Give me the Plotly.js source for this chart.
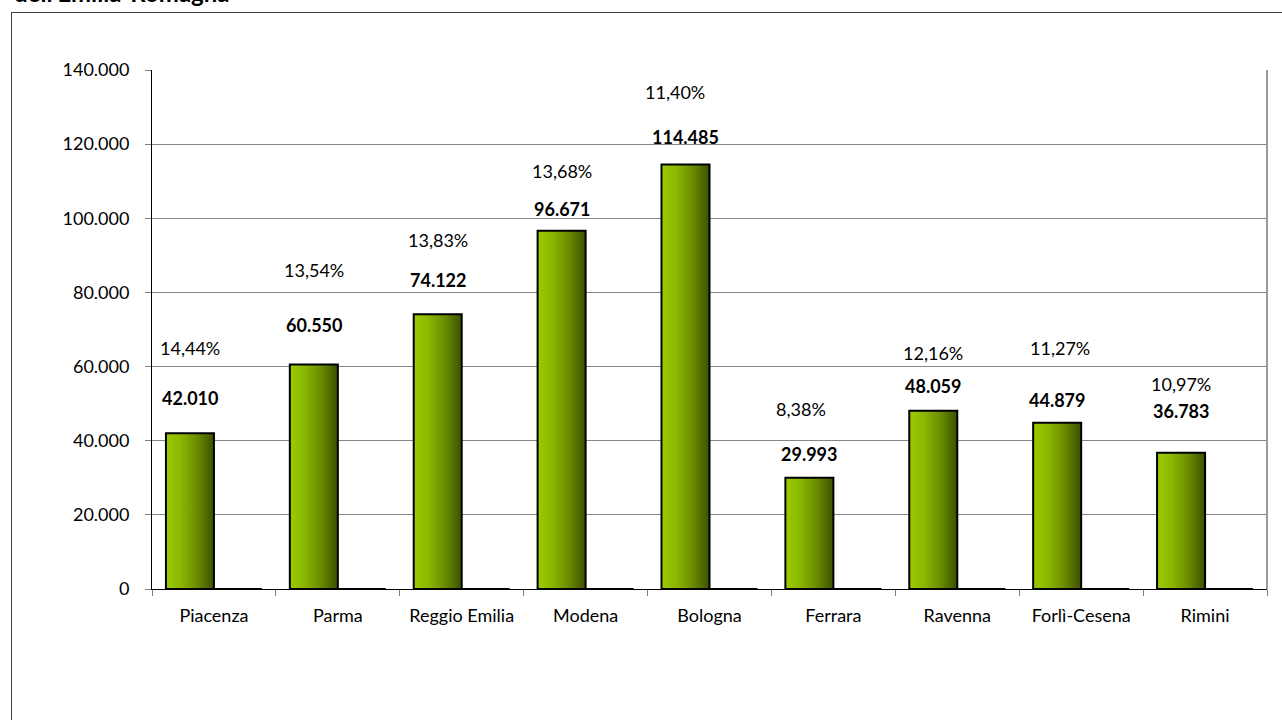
<!DOCTYPE html>
<html>
<head>
<meta charset="utf-8">
<script src="https://cdn.plot.ly/plotly-3.0.1.min.js"></script>
<style>
  html, body { margin: 0; padding: 0; background: #fff; }
  #wrap { position: relative; width: 1282px; height: 720px; overflow: hidden; }
  #frame { position: absolute; left: 11px; top: 12px; width: 1290px; height: 730px; border: 1px solid #404040; box-sizing: border-box; }
  #chart { position: absolute; left: 0; top: 0; width: 1282px; height: 720px; }
</style>
</head>
<body>
<div id="wrap">
  <div id="frame"></div>
  <div id="chart"></div>
</div>
<script>
// ---- data ----
const province = ["Piacenza", "Parma", "Reggio Emilia", "Modena", "Bologna", "Ferrara", "Ravenna", "Forlì-Cesena", "Rimini"];
const valori = [42010, 60550, 74122, 96671, 114485, 29993, 48059, 44879, 36783];
const percentuali = [0.1444, 0.1354, 0.1383, 0.1368, 0.1140, 0.0838, 0.1216, 0.1127, 0.1097];
const yTicks = [0, 20000, 40000, 60000, 80000, 100000, 120000, 140000];
const titolo = "dell'Emilia-Romagna";

// ---- label placement (pixels above bar top) ----
const valShift = [35, 40, 34, 22, 28, 24, 25, 23, 42];
const pctShift = [85, 95, 74, 60, 73, 69, 58, 75, 69];
const pctXShift = [0, 0, 0, 0, -11, -8, 0, 3, 0];

function fmtThousands(v) {
  return String(v).replace(/\B(?=(\d{3})+(?!\d))/g, ".");
}
function fmtPct(p) {
  return (p * 100).toFixed(2).replace(".", ",") + "%";
}

const FONT = "Lato, 'Open Sans', sans-serif";
const barOffset = -24; // first bar centre relative to category centre (px)

const annotations = [];
province.forEach((p, i) => {
  annotations.push({
    x: p, y: valori[i], xref: "x", yref: "y",
    text: "<b>" + fmtThousands(valori[i]) + "</b>",
    showarrow: false, xshift: barOffset, yshift: valShift[i],
    font: { family: FONT, size: 18, color: "#000" }
  });
  annotations.push({
    x: p, y: valori[i], xref: "x", yref: "y",
    text: fmtPct(percentuali[i]),
    showarrow: false, xshift: barOffset + pctXShift[i], yshift: pctShift[i],
    font: { family: FONT, size: 18, color: "#000" }
  });
});
// title (only its lower part is visible at the top edge, as in the reference)
annotations.push({
  xref: "paper", yref: "paper", x: (12 - 152) / 1115, y: 1,
  xanchor: "left", yanchor: "bottom", yshift: 61,
  text: "<b>" + titolo + "</b>", showarrow: false,
  font: { family: FONT, size: 24, color: "#000" }
});

const traces = [
  {
    type: "bar", x: province, y: valori, name: "Valori",
    marker: { color: "#7fa800", line: { color: "#000", width: 2 } },
    hoverinfo: "x+y"
  },
  {
    type: "bar", x: province, y: percentuali, name: "Percentuali",
    marker: { color: "#000", line: { color: "#000", width: 2 } },
    hoverinfo: "x+y"
  }
];

const layout = {
  width: 1282, height: 720,
  margin: { l: 152, r: 15, t: 70, b: 131 },
  paper_bgcolor: "rgba(0,0,0,0)",
  plot_bgcolor: "#fff",
  separators: ",.",
  showlegend: false,
  barmode: "group",
  bargap: 0.225, bargroupgap: 0,
  font: { family: FONT, size: 18, color: "#000" },
  xaxis: {
    type: "category",
    showline: true, linecolor: "#000", linewidth: 1,
    ticks: "outside", tickson: "boundaries", ticklen: 6, tickcolor: "#7f7f7f",
    ticklabelstandoff: 10,
    tickfont: { family: FONT, size: 18, color: "#000" },
    showgrid: false, zeroline: false, fixedrange: true
  },
  yaxis: {
    range: [0, 140000], tickvals: yTicks,
    ticktext: yTicks.map(fmtThousands),
    showline: true, linecolor: "#000", linewidth: 1,
    ticks: "outside", ticklen: 6, tickcolor: "#7f7f7f",
    ticklabelstandoff: 12,
    tickfont: { family: FONT, size: 18, color: "#000" },
    showgrid: true, gridcolor: "#868686", gridwidth: 1,
    zeroline: false, fixedrange: true
  },
  shapes: [
    { type: "line", xref: "paper", yref: "paper", x0: 1, x1: 1, y0: 0, y1: 1,
      line: { color: "#9a9a9a", width: 2 } }
  ],
  annotations: annotations
};

Plotly.newPlot("chart", traces, layout, { displayModeBar: false, staticPlot: true }).then(gd => {
  const svg = gd.querySelector(".main-svg");
  const NS = "http://www.w3.org/2000/svg";
  let defs = svg.querySelector("defs");
  if (!defs) { defs = document.createElementNS(NS, "defs"); svg.insertBefore(defs, svg.firstChild); }
  const grad = document.createElementNS(NS, "linearGradient");
  grad.setAttribute("id", "barGrad");
  grad.setAttribute("x1", "0"); grad.setAttribute("y1", "0");
  grad.setAttribute("x2", "1"); grad.setAttribute("y2", "0");
  [["0", "#9cca00"], ["0.3", "#8cb800"], ["0.65", "#6a8c00"], ["1", "#3c5000"]].forEach(([o, c]) => {
    const s = document.createElementNS(NS, "stop");
    s.setAttribute("offset", o); s.setAttribute("stop-color", c);
    grad.appendChild(s);
  });
  defs.appendChild(grad);
  const traceGroups = gd.querySelectorAll(".barlayer .trace");
  if (traceGroups.length) {
    traceGroups[0].querySelectorAll("path").forEach(p => { p.style.fill = "url(#barGrad)"; });
  }
});
</script>
</body>
</html>
